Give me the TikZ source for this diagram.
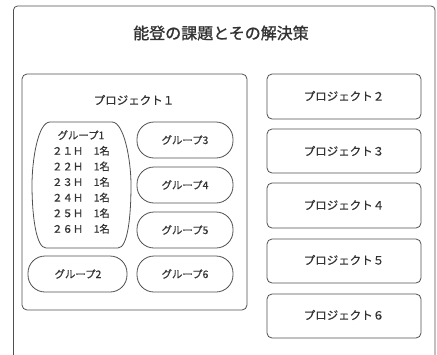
\documentclass[tikz,border=0pt]{standalone}
\usepackage{fontspec}
\setmainfont{Noto Sans CJK JP}
\newfontfamily\titlefont[FakeBold=1.2]{Noto Sans CJK JP}
\newfontfamily\medfont[FakeBold=0.5]{Noto Sans CJK JP}
\definecolor{linec}{HTML}{505050}
\definecolor{textc}{HTML}{333333}
\tikzset{
  box/.style={draw=linec, line width=0.8pt, rounded corners=5pt},
  pill/.style={draw=linec, line width=0.8pt, rounded corners=17pt},
  lbl/.style={text=textc, inner sep=0pt},
  plabel/.style={lbl, font=\medfont\fontsize{11.5}{13}\selectfont},
  glabel/.style={lbl, font=\medfont\fontsize{10.4}{12}\selectfont},
}
\begin{document}
\begin{tikzpicture}[x=1pt,y=-1pt]
\useasboundingbox[fill=white] (0,0) rectangle (437,354);
% outer frame (open at bottom)
\draw[draw=linec, line width=0.8pt, rounded corners=4pt] (13.5,360) -- (13.5,6) -- (435,6) -- (435,360);
\node[lbl, font=\titlefont\fontsize{16}{18}\selectfont] (title) at (221,33) {能登の課題とその解決策};
% project 1
\draw[box] (22,74) rectangle (247,310);
\node[plabel] (p1) at (134,100) {プロジェクト１};
% group 1
\draw[draw=linec, line width=0.8pt] (50,122) -- (112,122)
  .. controls (124,122) and (131,160) .. (131,185)
  .. controls (131,215) and (128,248) .. (118,248) -- (46,248)
  .. controls (36,248) and (32,215) .. (32,185)
  .. controls (32,160) and (38,122) .. (50,122) -- cycle;
\node[glabel, align=center, font=\medfont\fontsize{10.4}{15.6}\selectfont] (g1) at (81,182)
  {グループ1\\２１Ｈ　1名\\２２Ｈ　1名\\２３Ｈ　1名\\２４Ｈ　1名\\２５Ｈ　1名\\２６Ｈ　1名};
% other groups
\draw[pill] (28,256) rectangle (127,292);
\node[glabel] (g2) at (78,274) {グループ2};
\draw[pill] (137,122) rectangle (233,158);
\node[glabel] (g3) at (185,140) {グループ3};
\draw[pill] (137,167) rectangle (233,203);
\node[glabel] (g4) at (185,185) {グループ4};
\draw[pill] (137,212) rectangle (233,248);
\node[glabel] (g5) at (185,230) {グループ5};
\draw[pill] (137,256) rectangle (233,292);
\node[glabel] (g6) at (185,274) {グループ6};
% projects 2-6
\draw[box] (267,74) rectangle (421,119);
\node[plabel] (p2) at (344,96) {プロジェクト２};
\draw[box] (267,129) rectangle (421,173);
\node[plabel] (p3) at (344,151) {プロジェクト３};
\draw[box] (267,183) rectangle (421,228);
\node[plabel] (p4) at (344,205) {プロジェクト４};
\draw[box] (267,239) rectangle (421,283);
\node[plabel] (p5) at (344,260) {プロジェクト５};
\draw[box] (267,294) rectangle (421,338);
\node[plabel] (p6) at (344,315) {プロジェクト６};
\end{tikzpicture}
\end{document}
